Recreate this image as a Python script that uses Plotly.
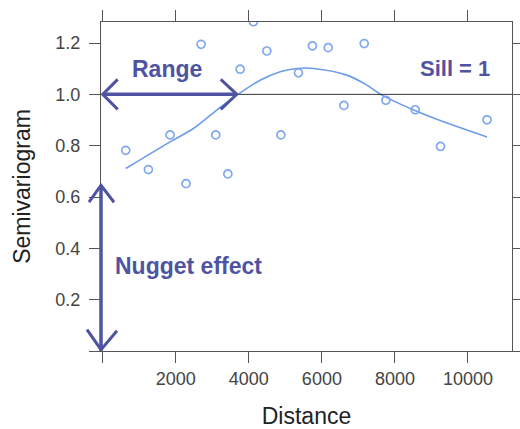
import plotly.graph_objects as go

# ---- data ----
dist = [630, 1250, 1844, 2282, 2693, 3096, 3425, 3762, 4126, 4493, 4877, 5359,
        5742, 6173, 6603, 7159, 7753, 8556, 9249, 10521]
semivar = [0.782, 0.707, 0.842, 0.652, 1.195, 0.842, 0.690, 1.098, 1.283, 1.169,
           0.842, 1.084, 1.189, 1.182, 0.957, 1.198, 0.977, 0.940, 0.797, 0.901]

fit_dist = [630, 1844, 2482, 3123, 3671, 4310, 4858, 5315, 5770, 6685, 7233,
            7644, 8419, 9332, 10521]
fit_semivar = [0.711, 0.815, 0.867, 0.939, 0.997, 1.055, 1.088, 1.101, 1.101,
               1.075, 1.036, 0.997, 0.945, 0.893, 0.834]

x_ticks = [0, 2000, 4000, 6000, 8000, 10000]
x_ticklabels = ["", "2000", "4000", "6000", "8000", "10000"]
y_ticks = [0, 0.2, 0.4, 0.6, 0.8, 1.0, 1.2]
y_ticklabels = ["", "0.2", "0.4", "0.6", "0.8", "1.0", "1.2"]

sill = 1.0
range_dist = 3670
nugget = 0.646

ANN = "#4f54a2"
PT = "#7fa8f0"
FIT = "#6c9ceb"
AX = "#555555"
FONT = "Liberation Sans, Arial, sans-serif"

fig = go.Figure()
fig.add_trace(go.Scatter(x=fit_dist, y=fit_semivar, mode="lines",
                         line=dict(color=FIT, width=1.6, shape="spline"),
                         hoverinfo="skip", showlegend=False))
fig.add_trace(go.Scatter(x=dist, y=semivar, mode="markers",
                         marker=dict(symbol="circle-open", size=8, color=PT,
                                     line=dict(width=1.7, color=PT)),
                         showlegend=False))

shapes = []
# sill line
shapes.append(dict(type="line", xref="paper", yref="y", x0=0, x1=1, y0=sill, y1=sill,
                   line=dict(color="#333333", width=1)))
# range arrow
shapes.append(dict(type="line", xref="x", yref="y", x0=0, x1=range_dist, y0=sill, y1=sill,
                   line=dict(color=ANN, width=3.5)))
shapes.append(dict(type="path", xref="x", yref="y", xsizemode="pixel", ysizemode="pixel",
                   xanchor=0, yanchor=sill, path="M 15,15 L 0,0 L 15,-15",
                   line=dict(color=ANN, width=3)))
shapes.append(dict(type="path", xref="x", yref="y", xsizemode="pixel", ysizemode="pixel",
                   xanchor=range_dist, yanchor=sill, path="M -16,15 L 0,0 L -16,-15",
                   line=dict(color=ANN, width=3)))
# nugget arrow
shapes.append(dict(type="line", xref="paper", yref="y", x0=0, x1=0, y0=0, y1=nugget,
                   line=dict(color=ANN, width=3.5)))
shapes.append(dict(type="path", xref="paper", yref="y", xsizemode="pixel", ysizemode="pixel",
                   xanchor=0, yanchor=nugget, path="M -12,-17 L 0,0 L 13,-17",
                   line=dict(color=ANN, width=3)))
shapes.append(dict(type="path", xref="paper", yref="y", xsizemode="pixel", ysizemode="pixel",
                   xanchor=0, yanchor=0.005, path="M -14,20 L 0,0 L 16,19",
                   line=dict(color=ANN, width=3)))

annotations = [
    dict(text="<b>Range</b>", x=1753, y=1.1, xref="x", yref="y", showarrow=False,
         xanchor="center", yanchor="middle", font=dict(family=FONT, size=23, color=ANN)),
    dict(text="<b>Sill = 1</b>", x=10660, y=1.1, xref="x", yref="y", showarrow=False,
         xanchor="right", yanchor="middle", font=dict(family=FONT, size=22, color=ANN)),
    dict(text="<b>Nugget effect</b>", x=282, y=0.33, xref="x", yref="y", showarrow=False,
         xanchor="left", yanchor="middle", font=dict(family=FONT, size=23, color=ANN)),
]

fig.update_layout(
    width=520, height=429,
    margin=dict(l=101, r=8, t=22, b=78, autoexpand=False),
    paper_bgcolor="white", plot_bgcolor="white",
    font=dict(family=FONT, color="#333333"),
    shapes=shapes, annotations=annotations,
    showlegend=False,
)
fig.update_xaxes(range=[-47, 11205], tickvals=x_ticks, ticktext=x_ticklabels,
                 ticks="outside", ticklen=11, tickwidth=1, tickcolor=AX,
                 showline=True, linecolor=AX, linewidth=1, mirror="ticks",
                 showgrid=False, zeroline=False,
                 tickfont=dict(size=18, color="#444444"),
                 title=dict(text="Distance", font=dict(size=23, color="#222222"), standoff=20))
fig.update_yaxes(range=[0, 1.282], tickvals=y_ticks, ticktext=y_ticklabels,
                 ticks="outside", ticklen=11, tickwidth=1, tickcolor=AX,
                 showline=True, linecolor=AX, linewidth=1, mirror="ticks",
                 showgrid=False, zeroline=False, ticklabelstandoff=5,
                 tickfont=dict(size=18, color="#444444"),
                 title=dict(text="Semivariogram", font=dict(size=23, color="#222222"), standoff=18))

fig.write_html("out.html")
